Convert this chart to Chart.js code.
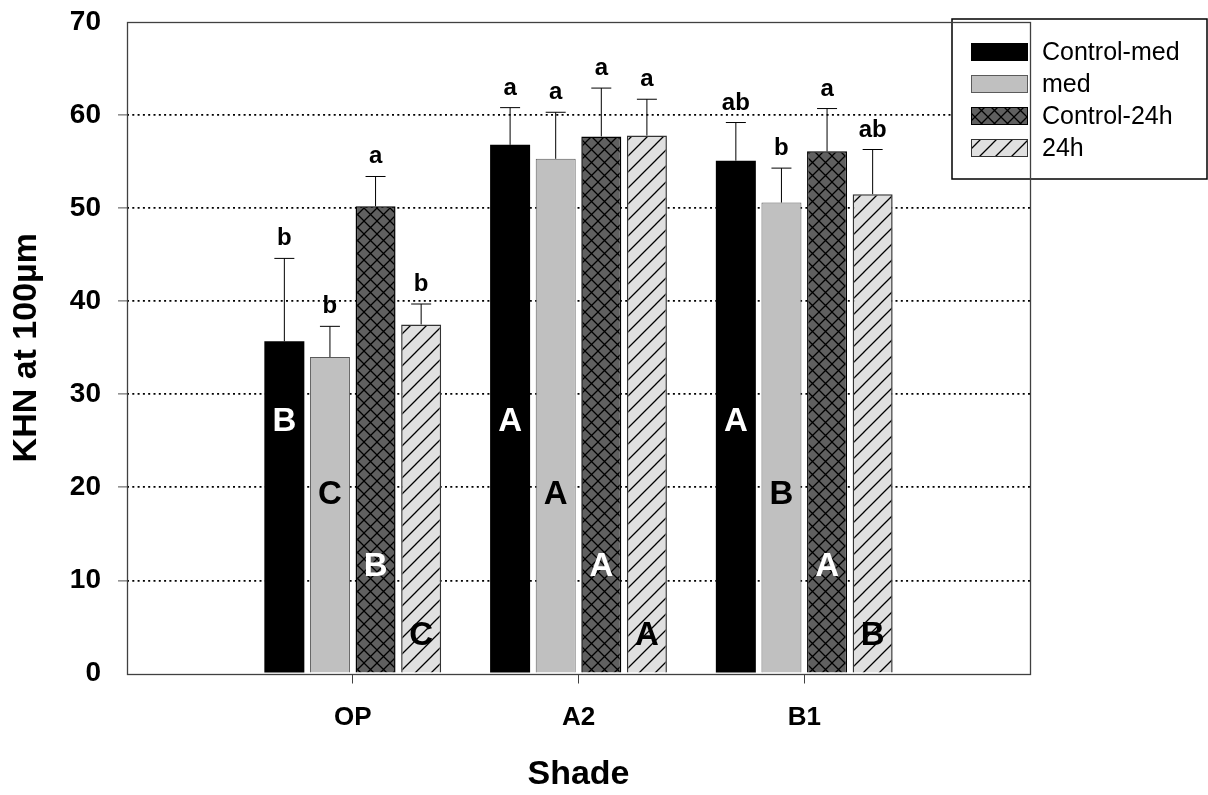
<!DOCTYPE html>
<html>
<head>
<meta charset="utf-8">
<script src="https://cdn.jsdelivr.net/npm/chart.js@4.4.0/dist/chart.umd.min.js"></script>
<style>
  body { margin: 0; background: #fff; }
</style>
</head>
<body>
<canvas id="grafico" width="1208" height="795"></canvas>
<script>
// dados
var shades = ['OP', 'A2', 'B1']
var seriesNames = ['Control-med', 'med', 'Control-24h', '24h']

var controlMed = [35.7, 56.8, 55.1]
var controlMedSd = [8.9, 4.0, 4.1]
var med = [34.0, 55.3, 50.6]
var medSd = [3.3, 5.0, 3.7]
var control24h = [50.2, 57.7, 56.1]
var control24hSd = [3.2, 5.2, 4.6]
var h24 = [37.5, 57.8, 51.5]
var h24Sd = [2.2, 3.9, 4.8]

// letras de significancia (maiusculas dentro das barras, minusculas em cima)
var shadeLetters = [['B', 'A', 'A'], ['C', 'A', 'B'], ['B', 'A', 'A'], ['C', 'A', 'B']]
var groupLetters = [['b', 'a', 'ab'], ['b', 'a', 'b'], ['a', 'a', 'a'], ['b', 'a', 'ab']]
var letterLevels = [27, 19.2, 11.4, 4.0]

var yMin = 0
var yMax = 70
var yStep = 10

var fonte = '"Liberation Sans", Arial, Helvetica, sans-serif'

var canvas = document.getElementById('grafico')
var ctx = canvas.getContext('2d')

function criarPadrao(fundo, tamanho, desenhar) {
    var c = document.createElement('canvas')
    c.width = tamanho
    c.height = tamanho
    var g = c.getContext('2d')
    g.fillStyle = fundo
    g.fillRect(0, 0, tamanho, tamanho)
    g.strokeStyle = '#000'
    g.lineWidth = 1.3
    g.beginPath()
    desenhar(g, tamanho)
    g.stroke()
    return ctx.createPattern(c, 'repeat')
}

var xadrez = criarPadrao('#606060', 13, function(g, s){
    g.moveTo(-1, -1); g.lineTo(s + 1, s + 1)
    g.moveTo(-1, s + 1); g.lineTo(s + 1, -1)
})

var listras = criarPadrao('#e0e0e0', 16, function(g, s){
    g.moveTo(-1, s + 1); g.lineTo(s + 1, -1)
    g.moveTo(-2, 2); g.lineTo(2, -2)
    g.moveTo(s - 2, s + 2); g.lineTo(s + 2, s - 2)
})

// categorias vazias nas pontas para deixar espaco como no original
var labels = [''].concat(shades, [''])
function pad(arr) { return [null].concat(arr, [null]) }

var datasets = [
    { label: seriesNames[0], data: pad(controlMed), desvio: controlMedSd, backgroundColor: '#000000', borderColor: '#000000', borderWidth: 0, corLetra: '#ffffff' },
    { label: seriesNames[1], data: pad(med), desvio: medSd, backgroundColor: '#c0c0c0', borderColor: '#5a5a5a', borderWidth: 1, corLetra: '#000000' },
    { label: seriesNames[2], data: pad(control24h), desvio: control24hSd, backgroundColor: xadrez, borderColor: '#000000', borderWidth: 1.5, corLetra: '#ffffff' },
    { label: seriesNames[3], data: pad(h24), desvio: h24Sd, backgroundColor: listras, borderColor: '#333333', borderWidth: 1.5, corLetra: '#000000' }
]

var pluginExtras = {
    id: 'extras',
    afterDatasetsDraw(chart) {
        var c = chart.ctx
        var escalaY = chart.scales.y
        var area = chart.chartArea

        // barras de erro e letras
        chart.data.datasets.forEach((ds, i) => {
            var meta = chart.getDatasetMeta(i)
            meta.data.forEach((bar, j) => {
                var v = ds.data[j]
                if (v == null) return
                var k = j - 1
                var topo = escalaY.getPixelForValue(v + ds.desvio[k])
                var base = escalaY.getPixelForValue(v)
                c.save()
                c.strokeStyle = '#000'
                c.lineWidth = 1
                c.beginPath()
                c.moveTo(bar.x, base)
                c.lineTo(bar.x, topo)
                c.moveTo(bar.x - 10, topo)
                c.lineTo(bar.x + 10, topo)
                c.stroke()

                c.fillStyle = '#000'
                c.font = `bold 24px ${fonte}`
                c.textAlign = 'center'
                c.textBaseline = 'alphabetic'
                c.fillText(groupLetters[i][k], bar.x, topo - 13)

                c.fillStyle = ds.corLetra
                c.font = `bold 33px ${fonte}`
                c.textBaseline = 'middle'
                c.fillText(shadeLetters[i][k], bar.x, escalaY.getPixelForValue(letterLevels[i]))
                c.restore()
            })
        })

        // legenda
        c.save()
        c.fillStyle = '#fff'
        c.fillRect(952, 19, 255, 160)
        c.strokeStyle = '#000'
        c.lineWidth = 1.5
        c.strokeRect(952, 19, 255, 160)
        chart.data.datasets.forEach((ds, i) => {
            var cy = 52 + i * 32
            c.fillStyle = ds.backgroundColor
            c.fillRect(971, cy - 9, 57, 18)
            if (ds.borderWidth) {
                c.strokeStyle = ds.borderColor
                c.lineWidth = 1
                c.strokeRect(971.5, cy - 8.5, 56, 17)
            }
            c.fillStyle = '#000'
            c.font = `25px ${fonte}`
            c.textAlign = 'left'
            c.textBaseline = 'middle'
            c.fillText(ds.label, 1042, cy + 1)
        })
        c.restore()

        // moldura do grafico
        c.save()
        c.strokeStyle = '#404040'
        c.lineWidth = 1.3
        c.strokeRect(Math.round(area.left) + 0.5, Math.round(area.top) + 0.5, Math.round(area.right - area.left), Math.round(area.bottom - area.top))
        c.restore()
    }
}

new Chart(ctx, {
    type: 'bar',
    data: { labels: labels, datasets: datasets },
    plugins: [pluginExtras],
    options: {
        responsive: false,
        animation: false,
        layout: { padding: { top: 22, right: 178, left: 0, bottom: 0 } },
        categoryPercentage: 0.808,
        barPercentage: 0.877,
        plugins: {
            legend: { display: false },
            tooltip: { enabled: false }
        },
        scales: {
            x: {
                offset: false,
                grid: {
                    offset: false,
                    drawOnChartArea: false,
                    drawTicks: true,
                    tickLength: 10,
                    tickColor: (c) => (c.index > 0 && c.index < labels.length - 1) ? '#404040' : 'rgba(0,0,0,0)',
                    tickWidth: 1
                },
                border: { display: false },
                ticks: {
                    color: '#000',
                    font: { family: fonte, size: 26, weight: 'bold' },
                    padding: 19,
                    maxRotation: 0,
                    autoSkip: false
                },
                title: {
                    display: true,
                    text: 'Shade',
                    color: '#000',
                    font: { family: fonte, size: 34, weight: 'bold' },
                    padding: { top: 0, bottom: 0 }
                },
                afterFit: (s) => {
                    s.height = 795 - 673.5
                    s.paddingLeft = 0
                    s.paddingRight = 0
                }
            },
            y: {
                min: yMin,
                max: yMax,
                ticks: {
                    stepSize: yStep,
                    color: '#000',
                    font: { family: fonte, size: 28, weight: 'bold' },
                    padding: 17
                },
                grid: {
                    color: (c) => (c.tick && c.tick.value > yMin && c.tick.value < yMax) ? '#000' : 'rgba(0,0,0,0)',
                    lineWidth: 1.8,
                    tickLength: 9,
                    tickColor: (c) => (c.tick && c.tick.value > yMin && c.tick.value < yMax) ? '#505050' : 'rgba(0,0,0,0)',
                    tickBorderDash: [],
                    tickWidth: 1
                },
                border: { display: false, dash: [2, 3.3] },
                title: {
                    display: true,
                    text: 'KHN at 100µm',
                    color: '#000',
                    font: { family: fonte, size: 34, weight: 'bold' },
                    padding: { top: 6, bottom: 0 }
                },
                afterFit: (s) => {
                    s.width = 127
                    s.paddingTop = 0
                    s.paddingBottom = 0
                }
            }
        }
    }
})
</script>
</body>
</html>
